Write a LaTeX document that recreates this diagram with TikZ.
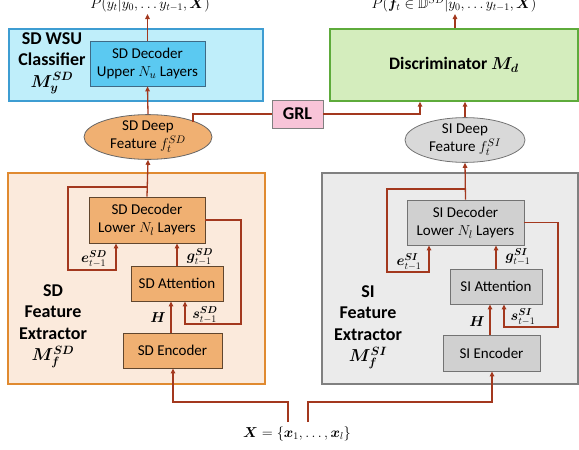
\documentclass[tikz,border=0pt]{standalone}
\usepackage{fontspec}
\usepackage{amsmath,amssymb,bm}
\setmainfont{Carlito}
\usetikzlibrary{shapes.geometric,arrows.meta}
\definecolor{arrc}{HTML}{A3381E}
\definecolor{clsfill}{HTML}{BFEEFA}
\definecolor{clsdraw}{HTML}{3E9DD2}
\definecolor{upfill}{HTML}{5BC9F1}
\definecolor{updraw}{HTML}{3F6A86}
\definecolor{discfill}{HTML}{D4EDBD}
\definecolor{discdraw}{HTML}{5EAB3B}
\definecolor{grlfill}{HTML}{F8C4D8}
\definecolor{sdfefill}{HTML}{FBEADC}
\definecolor{sdfedraw}{HTML}{E08A30}
\definecolor{sdbox}{HTML}{F0B072}
\definecolor{sifefill}{HTML}{EBEBEB}
\definecolor{sibox}{HTML}{D0D0D0}
\tikzset{
  arr/.style={draw=arrc,line width=1.3pt,-{Triangle[length=5pt,width=4.5pt]}},
  lin/.style={draw=arrc,line width=1.3pt},
  bx/.style={rectangle,inner sep=0pt,align=center,font=\fontsize{15}{18}\selectfont},
  sdb/.style={bx,fill=sdbox,draw=black!60!sdbox,line width=0.8pt},
  sib/.style={bx,fill=sibox,draw=black!55,line width=0.8pt},
  lbl/.style={font=\fontsize{14.5}{16}\selectfont,inner sep=0pt},
  bigl/.style={align=center,font=\fontsize{18}{21.5}\selectfont\bfseries,inner sep=0pt},
}
\begin{document}
\begin{tikzpicture}[x=1pt,y=-1pt]
\useasboundingbox (0,0) rectangle (579,450);
% containers
\node[bx,fill=clsfill,draw=clsdraw,line width=1.3pt,minimum width=254pt,minimum height=72pt] (sdcls) at (136,65) {};
\node[bx,fill=discfill,draw=discdraw,line width=1.3pt,minimum width=248pt,minimum height=72pt] (disc) at (454,65) {\fontsize{17.5}{20}\selectfont\bfseries Discriminator $\bm{M_d}$};
\node[bx,fill=sdfefill,draw=sdfedraw,line width=1.3pt,minimum width=257pt,minimum height=211pt] (sdfe) at (136.5,278.5) {};
\node[bx,fill=sifefill,draw=black!50,line width=1.3pt,minimum width=256pt,minimum height=211pt] (sife) at (450,278.5) {};
% left labels
\node[bigl] (sdclsl) at (52,63) {SD WSU\\Classifier\\$\bm{M_y^{SD}}$};
\node[bigl] (sdfel) at (53,326) {SD\\Feature\\Extractor\\$\bm{M_f^{SD}}$};
\node[bigl] (sifel) at (368,327) {SI\\Feature\\Extractor\\$\bm{M_f^{SI}}$};
% boxes
\node[bx,fill=upfill,draw=updraw,line width=0.8pt,minimum width=115pt,minimum height=45pt] (sdup) at (147.5,63.5) {SD Decoder\\Upper $N_u$ Layers};
\node[ellipse,fill=sdbox,draw=black!60,line width=0.8pt,minimum width=128pt,minimum height=41pt,inner sep=0pt,align=center,font=\fontsize{15}{18}\selectfont] (sdell) at (148,137) {SD Deep\\Feature $f_t^{SD}$};
\node[ellipse,fill=sibox!80!white,draw=black!55,line width=0.8pt,minimum width=120pt,minimum height=40pt,inner sep=0pt,align=center,font=\fontsize{15}{18}\selectfont] (siell) at (465,140) {SI Deep\\Feature $f_t^{SI}$};
\node[bx,fill=grlfill,draw=black!50,line width=0.8pt,minimum width=51pt,minimum height=28pt,font=\fontsize{18}{20}\selectfont\bfseries] (grl) at (297.5,114) {GRL};
\node[sdb,minimum width=116pt,minimum height=46pt] (sdlow) at (147,220) {SD Decoder\\Lower $N_l$ Layers};
\node[sdb,minimum width=92pt,minimum height=35pt] (sdatt) at (177,283.5) {SD Attention};
\node[sdb,minimum width=99pt,minimum height=35pt] (sdenc) at (172.5,350.5) {SD Encoder};
\node[sib,minimum width=117pt,minimum height=45pt] (silow) at (465.5,222.5) {SI Decoder\\Lower $N_l$ Layers};
\node[sib,minimum width=92pt,minimum height=35pt] (siatt) at (496,286.5) {SI Attention};
\node[sib,minimum width=97pt,minimum height=36pt] (sienc) at (491.5,353) {SI Encoder};
% top texts
\node[font=\fontsize{14.5}{17}\selectfont,inner sep=0pt,anchor=base] (ptop) at (150,8.5) {$P(y_t|y_0,\ldots y_{t-1},\bm{X})$};
\node[font=\fontsize{14.5}{17}\selectfont,inner sep=0pt,anchor=base] (dtop) at (454,8.5) {$P(\bm{f}_t\in\mathbb{D}^{SD}|y_0,\ldots y_{t-1},\bm{X})$};
\node[font=\fontsize{14}{16}\selectfont,inner sep=0pt] (xl) at (297,434) {$\bm{X}=\{\bm{x}_1,\ldots,\bm{x}_l\}$};
% labels
\node[lbl] (le1) at (94,259) {$\bm{e}_{t-1}^{\bm{SD}}$};
\node[lbl] (lg1) at (200,257) {$\bm{g}_{t-1}^{\bm{SD}}$};
\node[lbl] (ls1) at (205,315) {$\bm{s}_{t-1}^{\bm{SD}}$};
\node[lbl] (lh1) at (158,318) {$\bm{H}$};
\node[lbl] (le2) at (409,262) {$\bm{e}_{t-1}^{\bm{SI}}$};
\node[lbl] (lg2) at (518,257) {$\bm{g}_{t-1}^{\bm{SI}}$};
\node[lbl] (ls2) at (523,317) {$\bm{s}_{t-1}^{\bm{SI}}$};
\node[lbl] (lh2) at (477,322) {$\bm{H}$};
% coordinates
\coordinate (sdj) at (147,187);
\coordinate (sij) at (465.5,189);
\coordinate (sdfeat) at (193,122);
\coordinate (xa) at (288,422);
\coordinate (xb) at (308,422);
% top arrows
\draw[arr] (sdup.north) -- (sdup.north |- 0,14);
\draw[arr] (disc.north -| 455,0) -- (455,14);
\draw[arr] (sdell.north) -- (sdup.south);
\draw[arr] (siell.north) -- (disc.south -| siell.north);
% GRL
\draw[lin] (sdfeat) -- (193,114) -- (grl.west);
\draw[arr] (grl.east) -- (420,114) -- (disc.south -| 420,0);
% SD extractor
\draw[arr] (sdlow.north) -- (sdell.south);
\draw[arr] (sdj) -- (68,187) -- (68,270) -- (116,270) -- (sdlow.south -| 116,0);
\draw[arr] (sdatt.north) -- (sdlow.south -| sdatt.north);
\draw[arr] (sdlow.east) -- (241,220) -- (241,324) -- (185,324) -- (sdatt.south -| 185,0);
\draw[arr] (sdenc.north -| 171,0) -- (sdatt.south -| 171,0);
% SI extractor
\draw[arr] (silow.north) -- (siell.south);
\draw[arr] (sij) -- (387,189) -- (387,272) -- (429,272) -- (silow.south -| 429,0);
\draw[arr] (siatt.north) -- (silow.south -| siatt.north);
\draw[arr] (silow.east) -- (558,222.5) -- (558,327) -- (504,327) -- (siatt.south -| 504,0);
\draw[arr] (sienc.north -| 490,0) -- (siatt.south -| 490,0);
% inputs
\draw[arr] (xa) -- (288,402) -- (173,402) -- (sdenc.south -| 173,0);
\draw[arr] (xb) -- (308,402) -- (492,402) -- (sienc.south -| 492,0);
\end{tikzpicture}
\end{document}
